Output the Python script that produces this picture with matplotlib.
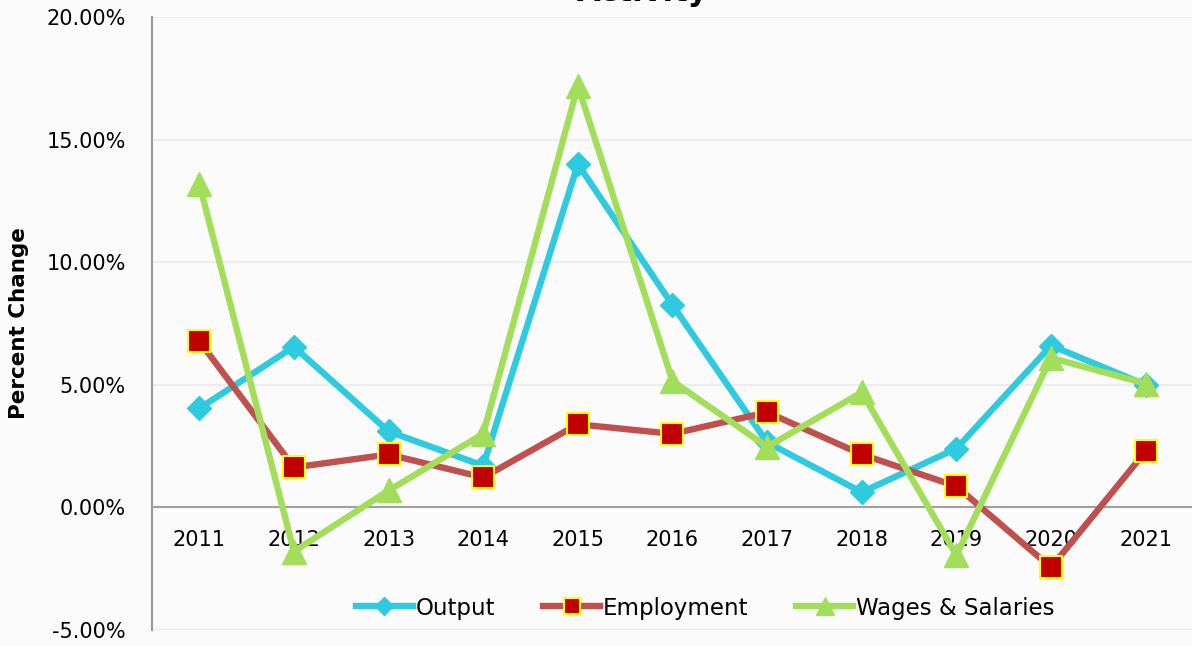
import matplotlib
matplotlib.use("Agg")
import matplotlib.pyplot as plt
from matplotlib.ticker import FuncFormatter, MultipleLocator

years = ["2011", "2012", "2013", "2014", "2015", "2016", "2017", "2018", "2019", "2020", "2021"]
output = [4.04, 6.55, 3.1, 1.7, 14.0, 8.25, 2.65, 0.62, 2.4, 6.6, 5.0]
employment = [6.78, 1.63, 2.16, 1.22, 3.39, 3.0, 3.88, 2.16, 0.86, -2.45, 2.29]
wages = [13.2, -1.8, 0.69, 3.0, 17.2, 5.15, 2.47, 4.69, -1.95, 6.1, 5.05]
series_names = ["Output", "Employment", "Wages & Salaries"]

W, H = 1192, 646
fig = plt.figure(figsize=(W / 100, H / 100), dpi=100)
bg = "#FBFBFB"
fig.patch.set_facecolor(bg)

left, right, top, bottom = 152, 1193, 17, 630
ax = fig.add_axes([left / W, (H - bottom) / H, (right - left) / W, (bottom - top) / H])
ax.set_facecolor(bg)

x = list(range(len(years)))
ax.plot(x, output, color="#2DCAE0", lw=4.6, marker="D", ms=12.5,
        mfc="#2DCAE0", mec="#2DCAE0", label=series_names[0], zorder=3, clip_on=False)
ax.plot(x, employment, color="#C0504D", lw=4.6, marker="s", ms=16,
        mfc="#C00000", mec="#FFFF00", mew=1.5, label=series_names[1], zorder=4, clip_on=False)
ax.plot(x, wages, color="#A3DE5B", lw=4.6, marker="^", ms=17,
        mfc="#A3DE5B", mec="#A3DE5B", label=series_names[2], zorder=5, clip_on=False)

ax.set_xlim(-0.5, len(years) - 0.5)
ax.set_ylim(-5, 20)
ax.yaxis.set_major_locator(MultipleLocator(5))
ax.yaxis.set_major_formatter(FuncFormatter(lambda v, p: f"{v:.2f}%"))
ax.set_xticks(x)
ax.set_xticklabels(years)

ax.grid(axis="y", color="#EDEDED", lw=1.6, zorder=0)
ax.set_axisbelow(True)
for s in ["top", "right"]:
    ax.spines[s].set_visible(False)
ax.spines["left"].set_color("#999999")
ax.spines["left"].set_linewidth(1.5)
ax.spines["bottom"].set_position(("data", 0))
ax.spines["bottom"].set_color("#A0A0A0")
ax.spines["bottom"].set_linewidth(1.5)

ax.tick_params(axis="both", length=0, labelsize=15, colors="black")
ax.tick_params(axis="y", pad=19)
ax.tick_params(axis="x", pad=16)

ax.set_ylabel("Percent Change", fontsize=15.5, fontweight="bold")
ax.yaxis.set_label_coords(-0.118, 0.5)

leg = fig.legend(loc="center", bbox_to_anchor=(705 / W, 1 - 608 / H), ncol=3,
                 frameon=False, fontsize=16.5, handlelength=2.5, handletextpad=0.1,
                 columnspacing=2.1, markerscale=0.75)

fig.text(643 / W, 1 - 1 / H, "Activity", ha="center", va="baseline",
         fontsize=22, fontweight="bold")

fig.savefig("out.png", dpi=100, facecolor=bg)
